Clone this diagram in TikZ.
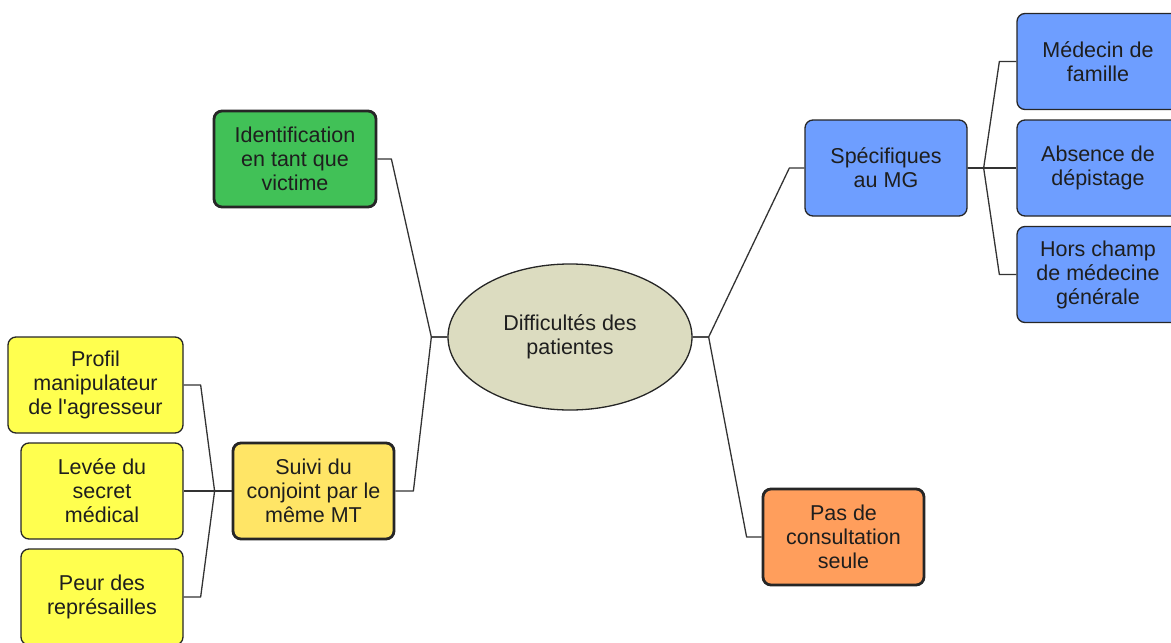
\documentclass[tikz,border=0pt]{standalone}
\usepackage{fontspec}
\setmainfont{Liberation Sans}[Ligatures=TeXOff]
\usetikzlibrary{shapes.geometric}
\definecolor{cgreen}{HTML}{41C157}
\definecolor{cblue}{HTML}{6E9EFF}
\definecolor{cyel}{HTML}{FFFF4F}
\definecolor{cyel2}{HTML}{FFE566}
\definecolor{corange}{HTML}{FF9E5C}
\definecolor{cell}{HTML}{DCDCC0}
\definecolor{ctext}{HTML}{1E1E1E}
\definecolor{cline}{HTML}{333333}
\tikzset{
  box/.style={draw=black!85, line width=1.3pt, rounded corners=8pt, minimum width=162pt, minimum height=96pt, align=center, text=ctext, inner sep=2pt, font=\fontsize{21.5}{24}\selectfont},
  thickbox/.style={box, line width=2.8pt},
  conn/.style={draw=cline, line width=1.3pt, line join=round},
}
\begin{document}
\begin{tikzpicture}[x=1pt,y=-1pt]
\useasboundingbox (0,0) rectangle (1171,643);
\node[ellipse, draw=black!85, line width=1.3pt, fill=cell, minimum width=244pt, minimum height=146pt, align=center, text=ctext, font=\fontsize{21.5}{24}\selectfont] (root) at (570,337) {Difficultés des\\patientes};
\node[thickbox, fill=cgreen] (ident) at (295,159) {Identification\\en tant que\\victime};
\node[thickbox, fill=cyel2, minimum width=161pt] (suivi) at (313.5,491) {Suivi du\\conjoint par le\\même MT};
\node[box, fill=cyel, minimum width=175pt] (profil) at (95.5,385) {Profil\\manipulateur\\de l'agresseur};
\node[box, fill=cyel] (levee) at (102,491) {Levée du\\secret\\médical};
\node[box, fill=cyel] (peur) at (102,597) {Peur des\\représailles};
\node[box, fill=cblue] (spec) at (886,168) {Spécifiques\\au MG};
\node[box, fill=cblue] (medecin) at (1098,61.5) {Médecin de\\famille};
\node[box, fill=cblue] (absence) at (1098,168) {Absence de\\dépistage};
\node[box, fill=cblue] (hors) at (1098,274.5) {Hors champ\\de médecine\\générale};
\node[thickbox, fill=corange, minimum width=161pt] (pas) at (843.5,537) {Pas de\\consultation\\seule};
% connectors
\draw[conn] (root.west) -- ++(-16,0) -- ([xshift=14pt]ident.east) -- (ident.east);
\draw[conn] (root.west) -- ++(-16,0) -- ([xshift=18pt]suivi.east) -- (suivi.east);
\draw[conn] (root.east) -- ++(16,0) -- ([xshift=-15pt]spec.west) -- (spec.west);
\draw[conn] (root.east) -- ++(16,0) -- ([xshift=-15pt]pas.west) -- (pas.west);
\draw[conn] (spec.east) -- ++(16,0) -- ([xshift=-17pt]medecin.west) -- (medecin.west);
\draw[conn] (spec.east) -- (absence.west);
\draw[conn] (spec.east) -- ++(16,0) -- ([xshift=-17pt]hors.west) -- (hors.west);
\draw[conn] (suivi.west) -- ++(-17,0) -- ([xshift=17pt]profil.east) -- (profil.east);
\draw[conn] (suivi.west) -- (levee.east);
\draw[conn] (suivi.west) -- ++(-17,0) -- ([xshift=17pt]peur.east) -- (peur.east);
\end{tikzpicture}
\end{document}
